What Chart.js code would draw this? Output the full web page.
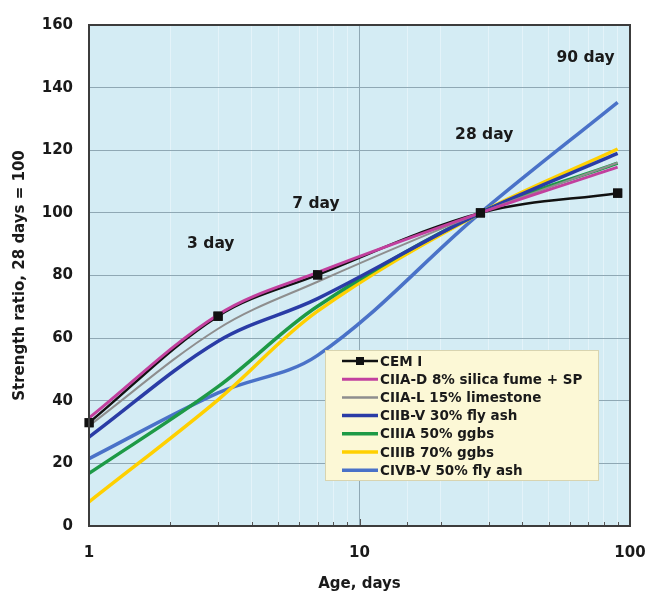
<!DOCTYPE html>
<html>
<head>
<meta charset="utf-8">
<script src="https://cdn.jsdelivr.net/npm/chart.js@4/dist/chart.umd.min.js"></script>
<style>
  body { margin: 0; background: #fff; }
  #wrap { width: 647px; height: 597px; }
</style>
</head>
<body>
<div id="wrap"><canvas id="chart" width="647" height="597"></canvas></div>
<script>
// ages in days and strength ratio (28 days = 100)
const ages = [1, 3, 7, 28, 90];
const cemI = [33, 67, 80.2, 100, 106.3];
const ciiaD = [34.5, 67.5, 81, 100, 114.6];
const ciiaL = [32, 63, 78, 100, 116];
const ciibV = [28.4, 59, 72.6, 100, 119];
const ciiiA = [16.8, 44.5, 70.2, 100, 115.9];
const ciiiB = [7.7, 40.3, 68.6, 100, 120.4];
const civbV = [21.5, 42.5, 54.5, 100, 135.3];

const seriesNames = [
  "CEM I",
  "CIIA-D 8% silica fume + SP",
  "CIIA-L 15% limestone",
  "CIIB-V 30% fly ash",
  "CIIIA 50% ggbs",
  "CIIIB 70% ggbs",
  "CIVB-V 50% fly ash",
];
const seriesColors = ["#111111", "#c2409e", "#8e8e8e", "#2a3ca6", "#1d9a46", "#ffd000", "#4a72c8"];
const seriesWidths = [2.5, 3, 2, 3.5, 3.5, 3.5, 3.5];

// day annotations: text, age, level
const dayText = ["3 day", "7 day", "28 day", "90 day"];
const dayAge = [2.82, 6.9, 28.9, 68.5];
const dayLevel = [90, 103, 125, 149.5];

const FONT = "'DejaVu Sans', sans-serif";

function toXY(vals) {
  return vals.map((v, i) => ({ x: ages[i], y: v }));
}

const allValues = [cemI, ciiaD, ciiaL, ciibV, ciiiA, ciiiB, civbV];
const orders = [2, 1, 3, 4, 5, 6, 7];

const datasets = allValues.map((vals, i) => ({
  label: seriesNames[i],
  data: toXY(vals),
  borderColor: seriesColors[i],
  backgroundColor: seriesColors[i],
  borderWidth: seriesWidths[i],
  tension: 0.35,
  pointRadius: i === 0 ? 6.5 : 0,
  pointStyle: "rect",
  pointBorderWidth: 0,
  order: orders[i],
}));

const plotDecor = {
  id: "plotDecor",
  beforeDraw(chart) {
    const { ctx, chartArea: a } = chart;
    ctx.save();
    ctx.fillStyle = "#d4ecf4";
    ctx.fillRect(a.left, a.top, a.right - a.left, a.bottom - a.top);
    ctx.restore();
  },
  afterDatasetsDraw(chart) {
    const { ctx, chartArea: a } = chart;
    // redraw CEM I markers on top
    const meta = chart.getDatasetMeta(0);
    meta.data.forEach((p) => p.draw(ctx, a));

    // minor ticks on the bottom edge
    const xs = chart.scales.x;
    ctx.save();
    ctx.strokeStyle = "#555";
    ctx.lineWidth = 1;
    xs.ticks.forEach((t) => {
      const px = Math.round(xs.getPixelForValue(t.value)) + 0.5;
      const len = [1, 10, 100].includes(t.value) ? 7 : 4;
      ctx.beginPath();
      ctx.moveTo(px, a.bottom);
      ctx.lineTo(px, a.bottom - len);
      ctx.stroke();
    });
    ctx.restore();

    // annotations
    ctx.save();
    ctx.font = "bold 15.5px " + FONT;
    ctx.fillStyle = "#1a1a1a";
    ctx.textAlign = "center";
    ctx.textBaseline = "middle";
    dayText.forEach((t, i) => {
      ctx.fillText(t, xs.getPixelForValue(dayAge[i]), chart.scales.y.getPixelForValue(dayLevel[i]));
    });
    ctx.restore();

    // legend box
    const lx = a.left + 236, ly = a.top + 325, lw = 273, lh = 130;
    ctx.save();
    ctx.fillStyle = "#fcf8d6";
    ctx.strokeStyle = "#d8d4b0";
    ctx.lineWidth = 1;
    ctx.fillRect(lx, ly, lw, lh);
    ctx.strokeRect(lx + 0.5, ly + 0.5, lw, lh);
    ctx.font = "bold 13.5px " + FONT;
    ctx.textBaseline = "middle";
    ctx.textAlign = "left";
    chart.data.datasets.forEach((ds, i) => {
      const cy = ly + 11 + i * 18.2;
      ctx.strokeStyle = ds.borderColor;
      ctx.lineWidth = Math.max(ds.borderWidth, 2.5);
      ctx.beginPath();
      ctx.moveTo(lx + 17, cy);
      ctx.lineTo(lx + 53, cy);
      ctx.stroke();
      if (i === 0) {
        ctx.fillStyle = ds.borderColor;
        ctx.fillRect(lx + 31, cy - 4, 8, 8);
      }
      ctx.fillStyle = "#1a1a1a";
      ctx.fillText(ds.label, lx + 55, cy + 1);
    });
    ctx.restore();

    // plot border
    ctx.save();
    ctx.strokeStyle = "#3c3c3c";
    ctx.lineWidth = 2;
    ctx.strokeRect(a.left, a.top, a.right - a.left, a.bottom - a.top);
    ctx.restore();
  },
};

new Chart(document.getElementById("chart"), {
  type: "line",
  data: { datasets: datasets },
  options: {
    responsive: false,
    animation: false,
    layout: { padding: { top: 22, right: 0, left: 0, bottom: 0 } },
    plugins: { legend: { display: false }, tooltip: { enabled: false } },
    scales: {
      x: {
        type: "logarithmic",
        min: 1,
        max: 100,
        afterFit: (s) => { s.height = 71; s.paddingRight = 17; },
        border: { display: false },
        grid: {
          drawTicks: false,
          lineWidth: 1,
          color: (c) => {
            const v = c.tick && c.tick.value;
            if (v === 1 || v === 100) return "rgba(0,0,0,0)";
            if (v === 10) return "#8fa8b4";
            return "#e4f3f9";
          },
        },
        ticks: {
          autoSkip: false,
          maxRotation: 0,
          padding: 18,
          color: "#1a1a1a",
          font: { family: FONT, size: 15, weight: "bold" },
          callback: (v) => ([1, 10, 100].includes(v) ? String(v) : ""),
        },
        title: {
          display: true,
          text: "Age, days",
          color: "#1a1a1a",
          font: { family: FONT, size: 15, weight: "bold" },
          padding: { top: 0, bottom: 4 },
        },
      },
      y: {
        min: 0,
        max: 160,
        afterFit: (s) => { s.width = 89; },
        border: { display: false },
        grid: {
          drawTicks: false,
          color: (c) => (c.tick && (c.tick.value === 0 || c.tick.value === 160) ? "rgba(0,0,0,0)" : "#8fa8b4"),
        },
        ticks: {
          stepSize: 20,
          padding: 16,
          color: "#1a1a1a",
          font: { family: FONT, size: 15, weight: "bold" },
        },
        title: {
          display: true,
          text: "Strength ratio, 28 days = 100",
          color: "#1a1a1a",
          font: { family: FONT, size: 15, weight: "bold" },
          padding: { top: 11, bottom: 0 },
        },
      },
    },
  },
  plugins: [plotDecor],
});
</script>
</body>
</html>
